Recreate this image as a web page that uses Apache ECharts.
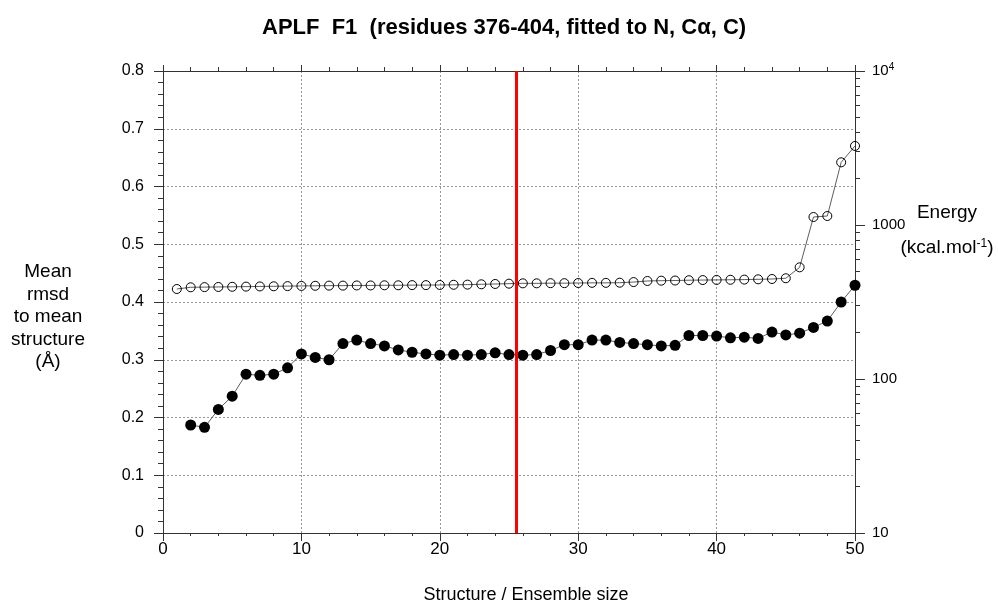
<!DOCTYPE html>
<html>
<head>
<meta charset="utf-8">
<script src="https://cdn.jsdelivr.net/npm/echarts@6/dist/echarts.min.js"></script>
<style>
  html, body { margin: 0; padding: 0; background: #fff; }
  #chart { width: 998px; height: 609px; }
</style>
</head>
<body>
<div id="chart"></div>
<script>
// structure index / ensemble size
const structures = [
  1, 2, 3, 4, 5, 6, 7, 8, 9, 10, 11, 12, 13, 14, 15, 16, 17, 18, 19, 20, 21, 22, 23, 24, 25,
  26, 27, 28, 29, 30, 31, 32, 33, 34, 35, 36, 37, 38, 39, 40, 41, 42, 43, 44, 45, 46, 47, 48, 49, 50,
]
// mean rmsd to mean structure (Å), starts at 2
const rmsd = [
  null, 0.187, 0.183, 0.214, 0.237, 0.275, 0.273, 0.275, 0.286, 0.310,
  0.304, 0.300, 0.328, 0.334, 0.328, 0.324, 0.317, 0.313, 0.310, 0.308,
  0.309, 0.308, 0.309, 0.312, 0.309, 0.308, 0.309, 0.316, 0.326, 0.326,
  0.334, 0.334, 0.330, 0.328, 0.326, 0.324, 0.325, 0.342, 0.342, 0.341,
  0.338, 0.339, 0.337, 0.348, 0.343, 0.346, 0.356, 0.367, 0.400, 0.429,
]
// energy (kcal/mol), log scale
const energy = [
  384, 394, 395, 396, 397, 398, 399, 400, 401, 402,
  403, 404, 404, 405, 405, 406, 406, 407, 407, 408,
  409, 410, 412, 414, 416, 418, 418, 419, 419, 420,
  421, 421, 422, 426, 433, 435, 436, 438, 439, 440,
  441, 442, 444, 446, 451, 531, 1127, 1144, 2553, 3260,
]
const cutoff = 25.5
const rmsdTicks = [0, 0.1, 0.2, 0.3, 0.4, 0.5, 0.6, 0.7, 0.8]
const energyMinorTicks = [
  20, 30, 40, 50, 60, 70, 80, 90,
  200, 300, 400, 500, 600, 700, 800, 900,
  2000, 3000, 4000, 5000, 6000, 7000, 8000, 9000,
]

const font = 'Liberation Sans, Arial, sans-serif'
const axisColor = '#333'
const plot = { left: 163, right: 143, top: 71, bottom: 76 }
const chart = echarts.init(document.getElementById('chart'))

chart.setOption({
  animation: false,
  backgroundColor: '#fff',
  textStyle: { fontFamily: font },
  title: {
    text: 'APLF  F1  (residues 376-404, fitted to N, Cα, C)',
    left: 257,
    top: 12,
    textStyle: { fontFamily: font, fontSize: 22, fontWeight: 'bold', color: '#000' },
  },
  grid: [plot, plot],
  xAxis: [
    {
      type: 'value',
      min: 0,
      max: 50,
      interval: 10,
      axisLine: { onZero: false, lineStyle: { color: axisColor, width: 1 } },
      axisTick: { length: 8, lineStyle: { color: axisColor } },
      minorTick: { show: true, splitNumber: 5, length: 3, lineStyle: { color: axisColor } },
      axisLabel: { fontSize: 17, color: '#000', margin: 8 },
      splitLine: { show: true, lineStyle: { color: '#999', type: [2, 2], width: 1 } },
    },
    {
      type: 'value',
      position: 'top',
      min: 0,
      max: 50,
      interval: 10,
      axisLine: { show: true, onZero: false, lineStyle: { color: axisColor, width: 1 } },
      axisTick: { length: 6, lineStyle: { color: axisColor } },
      minorTick: { show: true, splitNumber: 5, length: 4, lineStyle: { color: axisColor } },
      axisLabel: { show: false },
      splitLine: { show: false },
    },
    { type: 'value', gridIndex: 1, min: 0, max: 50, show: false },
  ],
  yAxis: [
    {
      type: 'value',
      min: 0,
      max: 0.8,
      interval: 0.1,
      position: 'left',
      axisLine: { show: true, onZero: false, lineStyle: { color: axisColor, width: 1 } },
      axisTick: { show: true, length: 9, lineStyle: { color: axisColor } },
      minorTick: { show: true, splitNumber: 5, length: 5, lineStyle: { color: axisColor } },
      axisLabel: {
        fontSize: 16,
        color: '#000',
        margin: 19,
        formatter: (v) => (rmsdTicks.includes(+v.toFixed(1)) ? String(+v.toFixed(1)) : ''),
      },
      splitLine: { show: true, lineStyle: { color: '#999', type: [2, 2], width: 1 } },
    },
    {
      type: 'log',
      logBase: 10,
      min: 10,
      max: 10000,
      position: 'right',
      axisLine: { show: true, onZero: false, lineStyle: { color: axisColor, width: 1 } },
      axisTick: { show: true, length: 10, lineStyle: { color: axisColor } },
      axisLabel: {
        fontSize: 15,
        color: '#000',
        margin: 17,
        formatter: (v) => (v >= 10000 ? '{b|10}{s|4}' : String(Math.round(v))),
        rich: {
          b: { fontSize: 15, color: '#000', fontFamily: font },
          s: { fontSize: 10, color: '#000', fontFamily: font, verticalAlign: 'top', padding: [0, 0, 8, 0] },
        },
      },
      splitLine: { show: false },
    },
    {
      type: 'log',
      gridIndex: 1,
      logBase: 10,
      min: 10,
      max: 10000,
      position: 'right',
      axisLine: { show: false, onZero: false },
      axisTick: { show: true, length: 5, customValues: energyMinorTicks, lineStyle: { color: axisColor } },
      axisLabel: { show: false },
      splitLine: { show: false },
    },
  ],
  graphic: [
    {
      type: 'text',
      x: 48,
      y: 317,
      style: {
        text: 'Mean\nrmsd\nto mean\nstructure\n(Å)',
        font: '19px ' + font,
        fill: '#000',
        align: 'center',
        verticalAlign: 'middle',
        lineHeight: 22.5,
      },
    },
    {
      type: 'text',
      x: 947,
      y: 213,
      style: {
        text: '{n|Energy}',
        align: 'center',
        verticalAlign: 'middle',
        rich: { n: { font: '19px ' + font, fill: '#000' } },
      },
    },
    {
      type: 'text',
      x: 947,
      y: 248,
      style: {
        text: '{n|(kcal.mol}{s|-1}{n|)}',
        align: 'center',
        verticalAlign: 'middle',
        rich: {
          n: { font: '19px ' + font, fill: '#000' },
          s: { font: '12px ' + font, fill: '#000', verticalAlign: 'top', padding: [0, 0, 8, 0] },
        },
      },
    },
    {
      type: 'text',
      x: 526,
      y: 595,
      style: {
        text: 'Structure / Ensemble size',
        font: '18px ' + font,
        fill: '#000',
        align: 'center',
        verticalAlign: 'middle',
      },
    },
  ],
  series: [
    {
      name: 'Energy',
      type: 'line',
      xAxisIndex: 0,
      yAxisIndex: 1,
      data: structures.map((s, i) => [s, energy[i]]),
      symbol: 'circle',
      symbolSize: 9,
      showSymbol: true,
      itemStyle: { color: 'rgba(255,255,255,0)', borderColor: '#000', borderWidth: 1 },
      lineStyle: { color: '#333', width: 0.8 },
      z: 3,
    },
    {
      name: 'rmsd',
      type: 'line',
      xAxisIndex: 0,
      yAxisIndex: 0,
      data: structures.map((s, i) => [s, rmsd[i]]),
      symbol: 'circle',
      symbolSize: 11,
      itemStyle: { color: '#000', borderColor: '#000', borderWidth: 0 },
      lineStyle: { color: '#333', width: 0.8 },
      z: 4,
      markLine: {
        silent: true,
        symbol: ['none', 'none'],
        label: { show: false },
        lineStyle: { color: '#ff0000', width: 3, type: 'solid' },
        data: [{ xAxis: cutoff }],
      },
    },
  ],
})
</script>
</body>
</html>
